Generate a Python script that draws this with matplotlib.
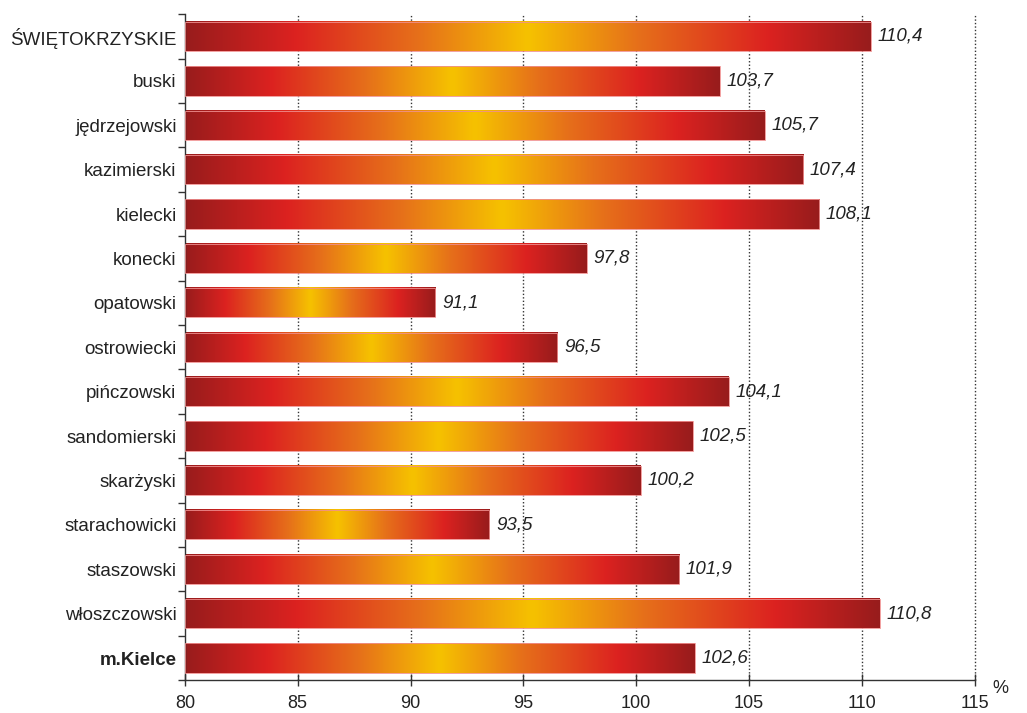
import matplotlib.pyplot as plt
import numpy as np
from matplotlib.colors import LinearSegmentedColormap

plt.rcParams['font.family'] = ['Liberation Sans', 'DejaVu Sans']

regions = ["ŚWIĘTOKRZYSKIE", "buski", "jędrzejowski", "kazimierski", "kielecki",
           "konecki", "opatowski", "ostrowiecki", "pińczowski", "sandomierski",
           "skarżyski", "starachowicki", "staszowski", "włoszczowski", "m.Kielce"]
values = [110.4, 103.7, 105.7, 107.4, 108.1, 97.8, 91.1, 96.5, 104.1,
          102.5, 100.2, 93.5, 101.9, 110.8, 102.6]
value_labels = ["110,4", "103,7", "105,7", "107,4", "108,1", "97,8", "91,1", "96,5",
                "104,1", "102,5", "100,2", "93,5", "101,9", "110,8", "102,6"]
x_ticks = [80, 85, 90, 95, 100, 105, 110, 115]
base = 80

# gradient along each bar: dark red -> red -> orange -> yellow -> back
cmap = LinearSegmentedColormap.from_list("bar", [
    (0.0, "#981c1c"), (0.16, "#dc2220"), (0.34, "#e6701a"), (0.5, "#f6c200"),
    (0.66, "#e6701a"), (0.85, "#dc2220"), (1.0, "#981c1c")])
grad = np.linspace(0, 1, 256).reshape(1, -1)

fig = plt.figure(figsize=(10.27, 7.13), dpi=100)
ax = fig.add_axes([0.180, 0.046, 0.769, 0.934])

h = 0.66
for i, (v, lab) in enumerate(zip(values, value_labels)):
    ax.imshow(grad, cmap=cmap, aspect='auto', interpolation='bilinear',
              extent=(base, v, i + h / 2, i - h / 2), zorder=2)
    ax.add_patch(plt.Rectangle((base, i - h / 2), v - base, h, fill=False,
                               edgecolor="#f09090", lw=0.6, zorder=3))
    ax.text(v + 0.3, i, lab, va='center', ha='left', fontsize=13.5,
            style='italic', color='#222222', zorder=4)

for x in x_ticks[1:]:
    ax.axvline(x, color='#333333', lw=1.0, ls=(0, (1, 1.5)), zorder=1, clip_on=False)

ax.set_xlim(80, 115)
ax.set_ylim(len(regions) - 0.5, -0.5)
ax.set_xticks(x_ticks)
ax.set_xticklabels([str(t) for t in x_ticks], fontsize=13, color='#222222')
ax.set_yticks(range(len(regions)))
ax.set_yticklabels(regions, fontsize=13.5, color='#222222')
ax.get_yticklabels()[-1].set_fontweight('bold')
ax.set_yticks(np.arange(-0.5, len(regions), 1), minor=True)
ax.tick_params(axis='y', which='major', length=0, pad=6)
ax.tick_params(axis='y', which='minor', length=5, width=1, color='#333333')
ax.tick_params(axis='x', direction='inout', length=9, width=1, color='#333333', pad=6)

for s in ['top', 'right']:
    ax.spines[s].set_visible(False)
for s in ['left', 'bottom']:
    ax.spines[s].set_color('#333333')
    ax.spines[s].set_linewidth(1.0)

fig.text(0.966, 0.028, "%", fontsize=13, color='#222222')

fig.savefig("out.png", dpi=100)
